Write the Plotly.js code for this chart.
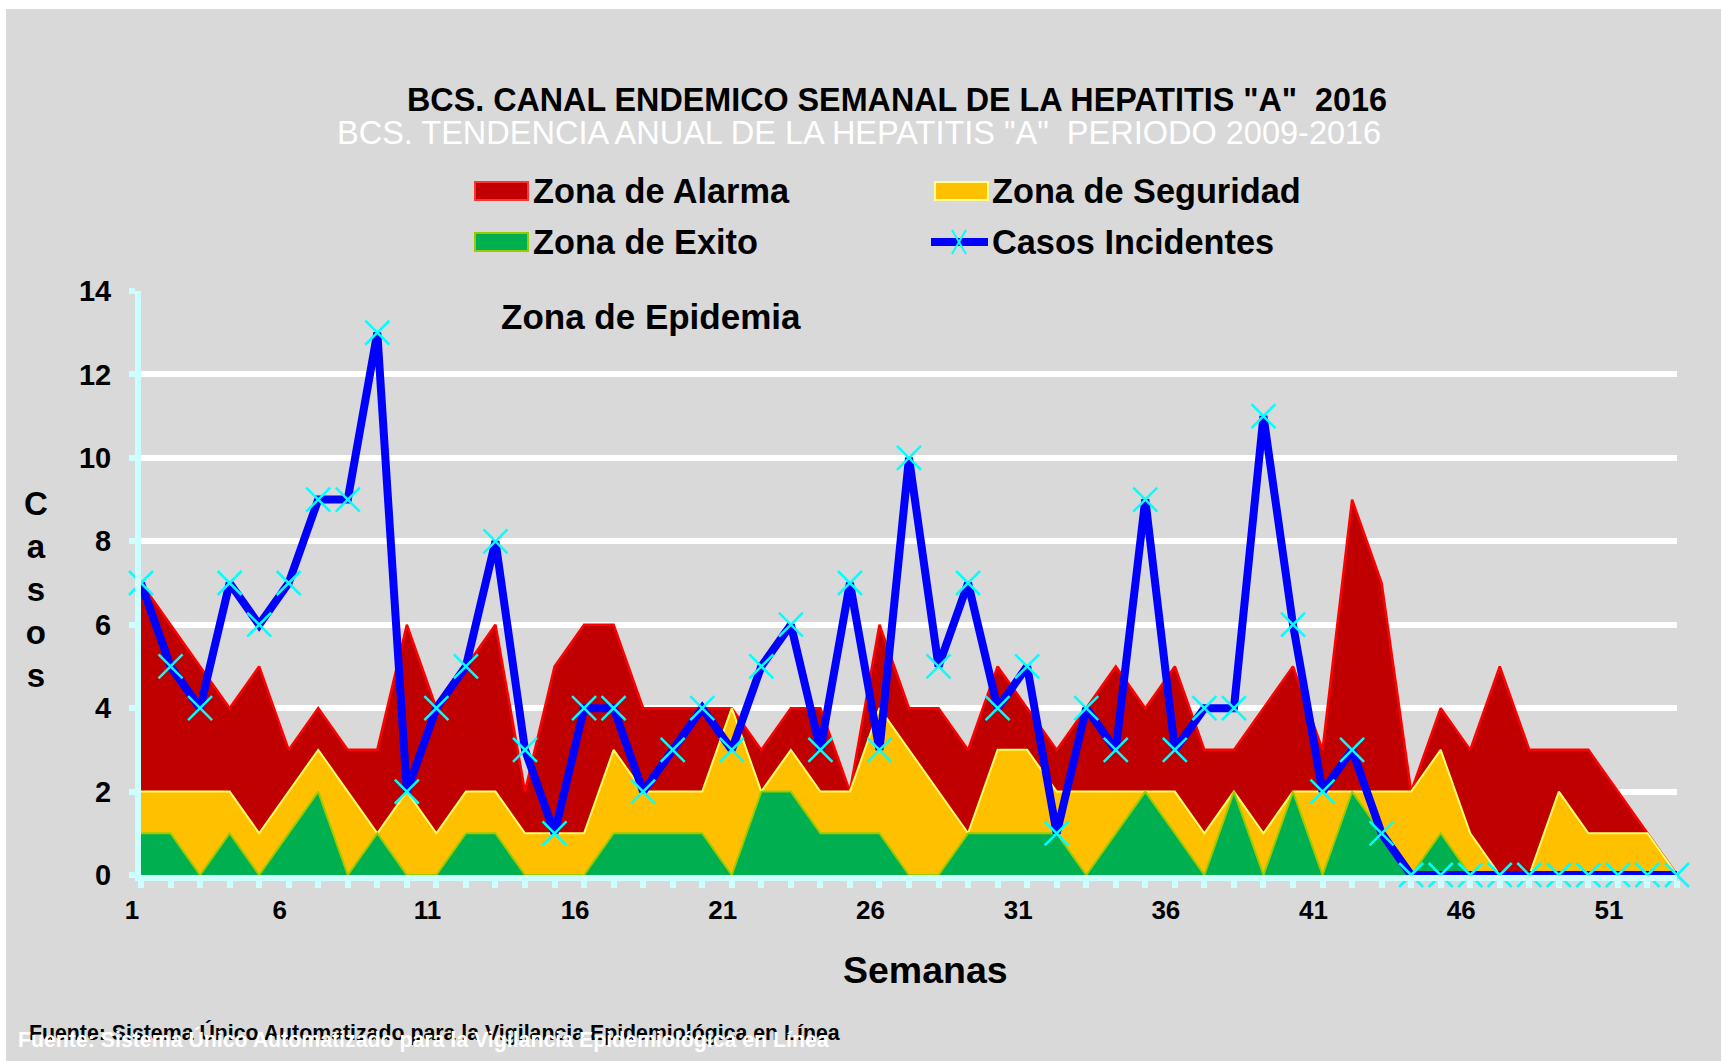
<!DOCTYPE html>
<html>
<head>
<meta charset="utf-8">
<script src="https://cdn.plot.ly/plotly-3.0.1.min.js"></script>
<style>
html,body{margin:0;padding:0;background:#ffffff;}
#chart{width:1721px;height:1061px;}
</style>
</head>
<body>
<div id="chart"></div>
<script>
const weeks = [1,2,3,4,5,6,7,8,9,10,11,12,13,14,15,16,17,18,19,20,21,22,23,24,25,26,27,28,29,30,31,32,33,34,35,36,37,38,39,40,41,42,43,44,45,46,47,48,49,50,51,52,53];
const zonaAlarma = [7,6,5,4,5,3,4,3,3,6, 4,5,6,2,5,6,6,4,4,4, 4,3,4,4,2,6,4,4,3,5, 4,3,4,5,4,5,3,3,4,5, 3,9,7,2,4,3,5,3,3,3, 2,1,0];
const zonaSeguridad = [2,2,2,2,1,2,3,2,1,2, 1,2,2,1,1,1,3,2,2,2, 4,2,3,2,2,4,3,2,1,3, 3,2,2,2,2,2,1,2,1,2, 2,2,2,2,3,1,0,0,2,1, 1,1,0];
const zonaExito = [1,1,0,1,0,1,2,0,1,0, 0,1,1,0,0,0,1,1,1,1, 0,2,2,1,1,1,0,0,1,1, 1,1,0,1,2,1,0,2,0,2, 0,2,1,0,1,0,0,0,0,0, 0,0,0];
const casosIncidentes = [7,5,4,7,6,7,9,9,13,2, 4,5,8,3,1,4,4,2,3,4, 3,5,6,3,7,3,10,5,7,4, 5,1,4,3,9,3,4,4,11,6, 2,3,1,0,0,0,0,0,0,0, 0,0,0];
const seriesNames = ["Zona de Alarma","Zona de Seguridad","Zona de Exito","Casos Incidentes"];
const yTicks = [0,2,4,6,8,10,12,14];

const FONT = 'Arial, "Liberation Sans", sans-serif';
const W = 1721, H = 1061;
const L = 141, R = 44, T = 291, B = 186;
const PW = W - L - R, PH = H - T - B;
const px = x => (x - L) / PW;
const py = y => (H - B - y) / PH;

const CYAN = '#ccffff';

const traces = [
  {x: weeks, y: zonaAlarma, name: seriesNames[0], type: 'scatter', mode: 'lines', fill: 'tozeroy',
   fillcolor: '#c00000', line: {color: '#ff0000', width: 2.5}, showlegend: false},
  {x: weeks, y: zonaSeguridad, name: seriesNames[1], type: 'scatter', mode: 'lines', fill: 'tozeroy',
   fillcolor: '#ffc000', line: {color: '#ffff66', width: 2}, showlegend: false},
  {x: weeks, y: zonaExito, name: seriesNames[2], type: 'scatter', mode: 'lines', fill: 'tozeroy',
   fillcolor: '#00b050', line: {color: '#99cc00', width: 2}, showlegend: false},
  {x: weeks, y: casosIncidentes, name: seriesNames[3], type: 'scatter', mode: 'lines+markers',
   line: {color: '#0000ff', width: 8}, cliponaxis: false,
   marker: {symbol: 'x-thin', size: 24, color: '#00ffff', line: {color: '#00ffff', width: 2.5}},
   showlegend: false}
];

const shapes = [
  {type: 'rect', xref: 'paper', yref: 'paper', x0: px(6), x1: px(1721), y0: py(9), y1: py(1061),
   fillcolor: '#d9d9d9', line: {width: 0}, layer: 'below'},
  {type: 'rect', xref: 'paper', yref: 'paper', x0: px(475), x1: px(528), y0: py(182), y1: py(200),
   fillcolor: '#c00000', line: {color: '#ff3333', width: 2}},
  {type: 'rect', xref: 'paper', yref: 'paper', x0: px(935), x1: px(988), y0: py(182), y1: py(200),
   fillcolor: '#ffc000', line: {color: '#ffff99', width: 2}},
  {type: 'rect', xref: 'paper', yref: 'paper', x0: px(475), x1: px(528), y0: py(233), y1: py(251),
   fillcolor: '#00b050', line: {color: '#99cc00', width: 2}},
  {type: 'line', xref: 'paper', yref: 'paper', x0: px(931), x1: px(988), y0: py(242), y1: py(242),
   line: {color: '#0000ff', width: 8}},
  {type: 'line', xref: 'paper', yref: 'paper', x0: px(952), x1: px(966), y0: py(230), y1: py(254),
   line: {color: '#00ffff', width: 2}},
  {type: 'line', xref: 'paper', yref: 'paper', x0: px(966), x1: px(952), y0: py(230), y1: py(254),
   line: {color: '#00ffff', width: 2}}
];

function ann(text, x, y, size, opts) {
  return Object.assign({text: text, xref: 'paper', yref: 'paper', x: px(x), y: py(y),
    showarrow: false, xanchor: 'center', yanchor: 'middle',
    font: {family: FONT, size: size, color: '#000000'}}, opts || {});
}

const FOOT = 'Fuente: Sistema Único Automatizado para la Vigilancia Epidemiológica en Línea';

const annotations = [
  ann('<b>BCS. CANAL ENDEMICO SEMANAL DE LA HEPATITIS "A"  2016</b>', 897, 100, 32.3),
  ann('BCS. TENDENCIA ANUAL DE LA HEPATITIS "A"  PERIODO 2009-2016', 859, 133, 32.5,
      {font: {family: FONT, size: 32.5, color: '#ffffff'}}),
  ann('<b>' + seriesNames[0] + '</b>', 531, 191, 34.3, {xanchor: 'left'}),
  ann('<b>' + seriesNames[1] + '</b>', 990, 191, 34.3, {xanchor: 'left'}),
  ann('<b>' + seriesNames[2] + '</b>', 531, 242, 34.3, {xanchor: 'left'}),
  ann('<b>' + seriesNames[3] + '</b>', 990, 242, 34.3, {xanchor: 'left'}),
  ann('<b>Zona de Epidemia</b>', 651, 316, 35),
  ann('<b>C<br>a<br>s<br>o<br>s</b>', 36, 589, 33),
  ann('<b>Semanas</b>', 925, 970, 37.5),
  ann('<b>' + FOOT + '</b>', 27, 1032, 21.3, {xanchor: 'left'}),
  ann('<b>' + FOOT + '</b>', 16, 1039, 21.3,
      {xanchor: 'left', font: {family: FONT, size: 21.3, color: '#ffffff'}})
];

const layout = {
  width: W, height: H,
  margin: {l: L, r: R, t: T, b: B, pad: 0},
  paper_bgcolor: '#ffffff',
  plot_bgcolor: '#d9d9d9',
  showlegend: false,
  font: {family: FONT, color: '#000000'},
  xaxis: {
    range: [1, 53], tickmode: 'linear', tick0: 1, dtick: 5,
    showgrid: false, zeroline: false,
    showline: true, linecolor: CYAN, linewidth: 6,
    ticks: 'outside', ticklen: 7, tickwidth: 6, tickcolor: CYAN,
    ticklabelshift: -9,
    tickfont: {family: FONT, size: 26, color: '#000000', weight: 'bold'},
    minor: {tickmode: 'linear', tick0: 1, dtick: 1, ticks: 'outside', ticklen: 7, tickwidth: 6, tickcolor: CYAN, showgrid: false}
  },
  yaxis: {
    range: [0, 14], tickmode: 'array', tickvals: yTicks, ticktext: yTicks.map(String),
    showgrid: true, gridcolor: '#ffffff', gridwidth: 6, zeroline: false,
    showline: true, linecolor: CYAN, linewidth: 6,
    ticks: 'outside', ticklen: 6, tickwidth: 6, tickcolor: CYAN,
    ticklabelstandoff: 12,
    tickfont: {family: FONT, size: 29, color: '#000000', weight: 'bold'}
  },
  shapes: shapes,
  annotations: annotations
};

Plotly.newPlot('chart', traces, layout, {displayModeBar: false, staticPlot: true});
</script>
</body>
</html>
